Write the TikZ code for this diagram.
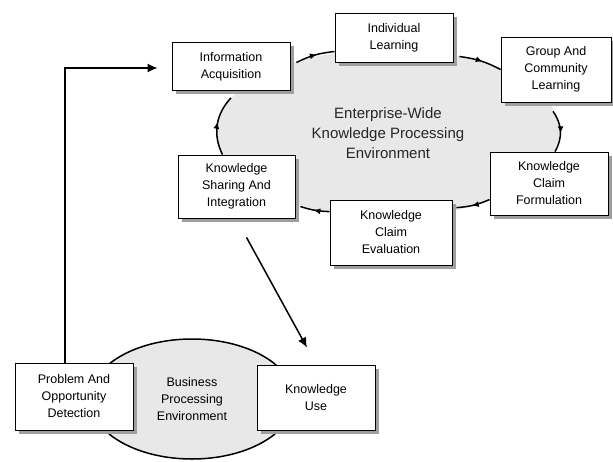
\documentclass[tikz,border=0pt]{standalone}
\usepackage{fontspec}
\setmainfont{Liberation Sans}
\usetikzlibrary{arrows.meta, positioning, shapes.geometric, shadows, decorations.markings}

\begin{document}
\begin{tikzpicture}[
    x=1pt, y=-1pt,
    box/.style={draw, rectangle, fill=white, line width=0.8pt, minimum width=118pt, minimum height=64pt, align=center, font=\fontsize{12.5}{17}\selectfont, drop shadow={shadow xshift=3.5pt, shadow yshift=-3.5pt, fill=gray!75, opacity=1}},
    env/.style={ellipse, fill=gray!18, align=center, inner sep=0pt},
    arrow/.style={-{Latex[length=10pt, width=9pt]}, line width=1.5pt},
    flow/.style={line width=1.5pt, postaction={decorate}, decoration={markings, mark=at position 0.55 with {\arrow{Latex[length=7pt, width=6pt]}}}}
]
    \useasboundingbox (0,0) rectangle (613,461);

    % environments
    \node[env, minimum width=344pt, minimum height=168pt, text=black!85, font=\fontsize{15}{20}\selectfont] (kpe) at (388,133) {Enterprise-Wide\\Knowledge Processing\\Environment};
    \node[env, draw, line width=1.5pt, minimum width=204pt, minimum height=120pt, font=\fontsize{12.5}{17}\selectfont] (bpe) at (192,399) {Business\\Processing\\Environment};

    % knowledge life cycle
    \node[box, minimum height=48pt] (info) at (231,66.5) {Information\\Acquisition};
    \node[box, minimum height=49pt] (indiv) at (394,37.5) {Individual\\Learning};
    \node[box, minimum width=110pt, minimum height=65pt] (group) at (556,69.5) {Group And\\Community\\Learning};
    \node[box, minimum height=63pt] (form) at (549,183.5) {Knowledge\\Claim\\Formulation};
    \node[box, minimum width=122pt, minimum height=65pt] (eval) at (391,232.5) {Knowledge\\Claim\\Evaluation};
    \node[box, minimum width=117pt, minimum height=63pt] (sharing) at (236.5,186.5) {Knowledge\\Sharing And\\Integration};

    % business side
    \node[box, minimum height=67pt] (problem) at (74,396.5) {Problem And\\Opportunity\\Detection};
    \node[box, minimum height=65pt] (use) at (316,397.5) {Knowledge\\Use};

    \draw[flow] ([xshift=6pt, yshift=4pt]info.east) to[bend left=10] ([yshift=-14pt]indiv.west);
    \draw[flow] ([xshift=6pt, yshift=-19pt]indiv.east) to[bend left=10] (group.west);
    \draw[flow] ([xshift=-3pt, yshift=-9pt]group.south) to[bend left=33] ([xshift=6pt]form.north);
    \draw[flow] ([yshift=-16pt]form.west) to[bend left=10] ([xshift=4pt, yshift=-8pt]eval.north east);
    \draw[flow] ([yshift=-12pt]eval.north west) to[bend left=8] ([xshift=5pt, yshift=-20pt]sharing.east);
    \draw[flow] ([xshift=-14pt]sharing.north) to[bend left=35] ([yshift=-7pt]info.south);

    \draw[arrow] ([xshift=10pt, yshift=-19pt]sharing.south) -- ([xshift=-9pt, yshift=17pt]use.north);
    \draw[arrow] ([xshift=-9pt]problem.north) |- ([xshift=-14pt, yshift=-1.5pt]info.west);
\end{tikzpicture}
\end{document}
